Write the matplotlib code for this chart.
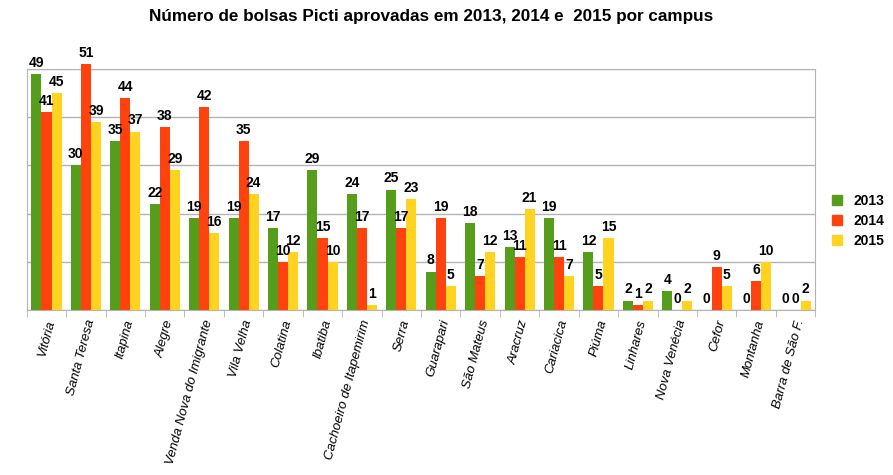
import numpy as np
import matplotlib
matplotlib.use('Agg')
import matplotlib.pyplot as plt
import matplotlib.transforms as mtrans
from matplotlib.patches import Patch

campus = ['Vitória', 'Santa Teresa', 'Itapina', 'Alegre', 'Venda Nova do Imigrante',
          'Vila Velha', 'Colatina', 'Ibatiba', 'Cachoeiro de Itapemirim', 'Serra',
          'Guarapari', 'São Mateus', 'Aracruz', 'Cariacica', 'Piúma', 'Linhares',
          'Nova Venécia', 'Cefor', 'Montanha', 'Barra de São F.']
v2013 = [49, 30, 35, 22, 19, 19, 17, 29, 24, 25, 8, 18, 13, 19, 12, 2, 4, 0, 0, 0]
v2014 = [41, 51, 44, 38, 42, 35, 10, 15, 17, 17, 19, 7, 11, 11, 5, 1, 0, 9, 6, 0]
v2015 = [45, 39, 37, 29, 16, 24, 12, 10, 1, 23, 5, 12, 21, 7, 15, 2, 2, 5, 10, 2]
years = ['2013', '2014', '2015']
colors = ['#579d1c', '#ff420e', '#ffd320']

plt.rcParams['font.family'] = ['Liberation Sans', 'DejaVu Sans']

fig = plt.figure(figsize=(8.93, 4.75), dpi=100)
ax = fig.add_axes([0.030, 0.347, 0.883, 0.508])

x = np.arange(len(campus))
w = 0.255
for i, (vals, c) in enumerate(zip([v2013, v2014, v2015], colors)):
    xs = x + (i - 1) * w
    ax.bar(xs, vals, w, color=c, clip_on=False, zorder=3)
    for xi, v in zip(xs, vals):
        ax.annotate(str(v), (xi, v), xytext=(0, 3), textcoords='offset points',
                    ha='center', va='bottom', fontsize=10, fontweight='bold',
                    annotation_clip=False, zorder=4)

ax.set_xlim(-0.5, len(campus) - 0.5)
ax.set_ylim(0, 50)
ax.set_yticks(np.arange(0, 51, 10))
ax.set_yticklabels([])
ax.tick_params(axis='y', length=0)
ax.yaxis.grid(True, color='#b3b3b3', lw=1)
ax.set_axisbelow(True)
for s in ax.spines.values():
    s.set_color('#b3b3b3')

ax.set_xticks(x)
ax.set_xticklabels(campus, rotation=75, ha='right', va='center',
                   rotation_mode='anchor', fontsize=9.5, fontstyle='italic')
ax.tick_params(axis='x', length=0, pad=7)
shift = mtrans.ScaledTranslation(5 / 100, 0, fig.dpi_scale_trans)
for lab in ax.get_xticklabels():
    lab.set_transform(lab.get_transform() + shift)
ax.set_xticks(np.arange(-0.5, len(campus), 1), minor=True)
ax.tick_params(axis='x', which='minor', length=5, color='#b3b3b3')

fig.text(0.483, 0.965, 'Número de bolsas Picti aprovadas em 2013, 2014 e  2015 por campus',
         ha='center', va='center', fontsize=12.3, fontweight='bold')

handles = [Patch(color=c) for c in colors]
fig.legend(handles, years, loc='center left', bbox_to_anchor=(0.918, 0.535),
           frameon=False, handlelength=0.7, handleheight=0.7, handletextpad=0.8,
           labelspacing=0.45, prop={'weight': 'bold', 'size': 10})

fig.savefig('out.png', dpi=100)
